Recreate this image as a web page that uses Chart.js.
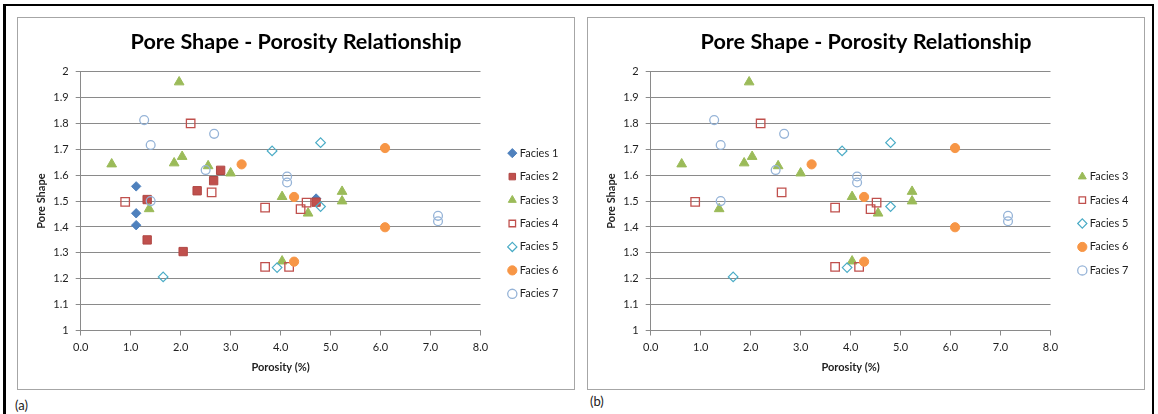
<!DOCTYPE html>
<html>
<head>
<meta charset="utf-8">
<title>Pore Shape - Porosity Relationship</title>
<script src="https://cdn.jsdelivr.net/npm/chart.js@4.4.1/dist/chart.umd.min.js"></script>
<style>
  body { margin: 0; background: #fff; width: 1158px; height: 414px; overflow: hidden; position: relative; font-family: Lato, sans-serif; }
  .frame { position: absolute; left: 3px; top: 4px; width: 1151px; height: 430px; box-sizing: border-box;
           border-top: 2px solid #000; border-left: 3px solid #000; border-right: 2px solid #000; }
  .panel { position: absolute; top: 17px; width: 558px; height: 373px; border: 1px solid #a6a6a6; box-sizing: border-box; }
  .panel canvas { position: absolute; left: 0; top: 0; }
  .tag { position: absolute; font-size: 13px; color: #222; line-height: 16px; }
</style>
</head>
<body>
<div class="frame"></div>
<div class="panel" style="left:17px"><canvas id="chartA" width="556" height="371"></canvas></div>
<div class="panel" style="left:587px"><canvas id="chartB" width="556" height="371"></canvas></div>
<div class="tag" style="left:15px; top:397px">(a)</div>
<div class="tag" style="left:590px; top:393px">(b)</div>
<script>
// porosity (%) and pore shape for each facies
const facies1Porosity = [1.11, 1.11, 1.11, 4.71];
const facies1Shape    = [1.557, 1.453, 1.407, 1.51];
const facies2Porosity = [1.33, 1.33, 2.05, 2.33, 2.66, 2.80, 4.71];
const facies2Shape    = [1.506, 1.350, 1.305, 1.540, 1.579, 1.619, 1.496];
const facies3Porosity = [0.62, 1.37, 1.87, 1.97, 2.03, 2.55, 3.00, 4.03, 4.03, 4.55, 5.23, 5.23];
const facies3Shape    = [1.643, 1.470, 1.647, 1.960, 1.672, 1.636, 1.608, 1.517, 1.268, 1.453, 1.537, 1.500];
const facies4Porosity = [0.89, 2.20, 2.62, 3.69, 3.69, 4.17, 4.40, 4.52];
const facies4Shape    = [1.497, 1.800, 1.534, 1.475, 1.246, 1.246, 1.469, 1.494];
const facies5Porosity = [1.65, 3.83, 3.93, 4.80, 4.80];
const facies5Shape    = [1.207, 1.694, 1.243, 1.726, 1.479];
const facies6Porosity = [3.22, 4.27, 4.27, 6.09, 6.09];
const facies6Shape    = [1.642, 1.516, 1.266, 1.705, 1.399];
const facies7Porosity = [1.27, 1.40, 1.40, 2.50, 2.67, 4.13, 4.13, 7.15, 7.15];
const facies7Shape    = [1.813, 1.717, 1.500, 1.620, 1.760, 1.595, 1.572, 1.443, 1.422];

const porosityTicks = ['0.0', '1.0', '2.0', '3.0', '4.0', '5.0', '6.0', '7.0', '8.0'];
const shapeTicks = ['1', '1.1', '1.2', '1.3', '1.4', '1.5', '1.6', '1.7', '1.8', '1.9', '2'];

const chartTitle = 'Pore Shape - Porosity Relationship';
const xTitle = 'Porosity (%)';
const yTitle = 'Pore Shape';

const facies = [
  { name: 'Facies 1', x: facies1Porosity, y: facies1Shape },
  { name: 'Facies 2', x: facies2Porosity, y: facies2Shape },
  { name: 'Facies 3', x: facies3Porosity, y: facies3Shape },
  { name: 'Facies 4', x: facies4Porosity, y: facies4Shape },
  { name: 'Facies 5', x: facies5Porosity, y: facies5Shape },
  { name: 'Facies 6', x: facies6Porosity, y: facies6Shape },
  { name: 'Facies 7', x: facies7Porosity, y: facies7Shape }
];

// marker look per facies
const markers = {
  'Facies 1': { style: 'rectRot',  r: 4.7, fill: '#4F81BD', line: '#4F81BD', w: 1 },
  'Facies 2': { style: 'rect',     r: 5.9, fill: '#C0504D', line: '#B04744', w: 1 },
  'Facies 3': { style: 'triangle', r: 5.6, fill: '#9BBB59', line: '#9BBB59', w: 1 },
  'Facies 4': { style: 'rect',     r: 6.0, fill: 'rgba(255,255,255,0)', line: '#C0504D', w: 1.3 },
  'Facies 5': { style: 'rectRot',  r: 4.8, fill: 'rgba(255,255,255,0)', line: '#4BACC6', w: 1.2 },
  'Facies 6': { style: 'circle',   r: 4.6, fill: '#F79646', line: '#F79646', w: 1 },
  'Facies 7': { style: 'circle',   r: 4.4, fill: 'rgba(255,255,255,0)', line: '#95B3D7', w: 1.3 }
};

const FONT = 'Lato';
const TEXT = '#1f1f1f';
const GRID = '#8a8a8a';
const LEGEND_FONT = 11;
const LEGEND_PAD = 12.45;
const LEGEND_BOX_W = 4;

// plot area inside each canvas
const AREA = { left: 62.7, right: 462.5, top: 53.7, bottom: 312.5 };

// centres the title on the whole canvas and moves the legend column
// to a fixed spot right of the plot
const blockPlacer = {
  id: 'blockPlacer',
  afterLayout(chart, args, opts) {
    const tb = chart.titleBlock;
    if (tb) {
      tb.left = 0;
      tb.right = chart.width;
      tb.width = chart.width;
    }
    const lg = chart.legend;
    if (!lg || !lg.legendItems) return;
    const n = lg.legendItems.length;
    const pitch = LEGEND_FONT + LEGEND_PAD;
    const firstTop = opts.centerY - (n - 1) * pitch / 2 - LEGEND_FONT / 2;
    lg.top = firstTop - LEGEND_PAD;
    lg.bottom = lg.top + 400;
    lg.left = opts.markerX - LEGEND_PAD - LEGEND_BOX_W / 2;
    lg.right = lg.left + lg.width;
  }
};

function makeDataset(f, i) {
  const m = markers[f.name];
  return {
    label: f.name,
    data: f.x.map((x, k) => ({ x: x, y: f.y[k] })),
    pointStyle: m.style,
    pointRadius: m.r,
    pointBackgroundColor: m.fill,
    pointBorderColor: m.line,
    pointBorderWidth: m.w,
    backgroundColor: m.fill,
    borderColor: m.line,
    order: 10 - i
  };
}

function makeChart(canvasId, names) {
  const list = facies.filter(f => names.includes(f.name));
  return new Chart(document.getElementById(canvasId), {
    type: 'scatter',
    data: { datasets: list.map(makeDataset) },
    plugins: [blockPlacer],
    options: {
      responsive: false,
      devicePixelRatio: 1,
      animation: false,
      events: [],
      layout: { padding: { left: 0, top: 0, right: 556 - AREA.right, bottom: 0 } },
      plugins: {
        tooltip: { enabled: false },
        title: {
          display: true,
          text: chartTitle,
          color: '#000',
          font: { family: FONT, size: 21.6, weight: 'bold' },
          padding: { top: 11.5, bottom: 16.3 }
        },
        legend: {
          position: 'chartArea',
          align: 'start',
          labels: {
            usePointStyle: true,
            boxWidth: LEGEND_BOX_W,
            boxHeight: 6.5,
            padding: LEGEND_PAD,
            color: TEXT,
            font: { family: FONT, size: LEGEND_FONT },
            sort: (a, b) => a.datasetIndex - b.datasetIndex
          }
        },
        blockPlacer: { markerX: 494.3, centerY: 205.5 }
      },
      scales: {
        x: {
          type: 'linear',
          min: 0,
          max: 8,
          afterBuildTicks: s => { s.ticks = porosityTicks.map(t => ({ value: parseFloat(t) })); },
          afterFit: s => { s.height = 371 - AREA.bottom; },
          grid: { drawOnChartArea: false, drawTicks: true, tickLength: 5, color: GRID },
          border: { color: GRID },
          ticks: {
            padding: 5,
            color: TEXT,
            font: { family: FONT, size: 11 },
            callback: (v, i) => porosityTicks[i]
          },
          title: {
            display: true,
            text: xTitle,
            color: TEXT,
            font: { family: FONT, size: 11, weight: 'bold' },
            padding: { top: 0, bottom: 15.4 }
          }
        },
        y: {
          type: 'linear',
          min: 1,
          max: 2,
          afterBuildTicks: s => { s.ticks = shapeTicks.map(t => ({ value: parseFloat(t) })); },
          afterFit: s => { s.width = AREA.left; },
          grid: { drawTicks: true, tickLength: 5, color: GRID },
          border: { color: GRID },
          ticks: {
            padding: 7,
            color: TEXT,
            font: { family: FONT, size: 11 },
            callback: (v, i) => shapeTicks[i]
          },
          title: {
            display: true,
            text: yTitle,
            color: TEXT,
            font: { family: FONT, size: 11, weight: 'bold' },
            padding: { top: 17, bottom: 0 }
          }
        }
      }
    }
  });
}

makeChart('chartA', ['Facies 1', 'Facies 2', 'Facies 3', 'Facies 4', 'Facies 5', 'Facies 6', 'Facies 7']);
makeChart('chartB', ['Facies 3', 'Facies 4', 'Facies 5', 'Facies 6', 'Facies 7']);
</script>
</body>
</html>
